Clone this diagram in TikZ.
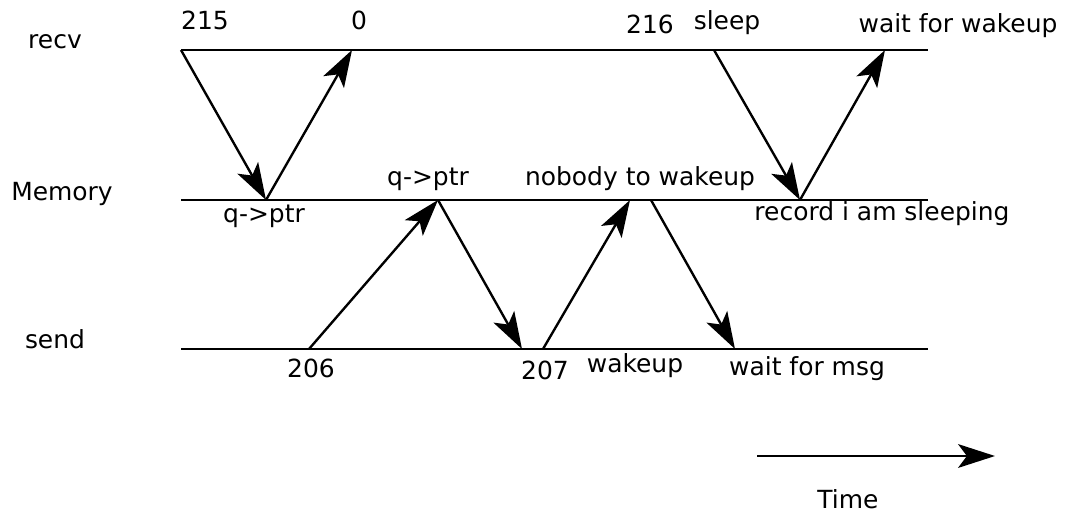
\documentclass[tikz,border=0pt]{standalone}
\usepackage{fontspec}
\setmainfont{DejaVu Sans}
\usetikzlibrary{arrows.meta}

\begin{document}
\begin{tikzpicture}[x=0.02cm,y=-0.02cm,line width=1.35pt,
    msg/.style={-{Stealth[length=21pt,width=13.5pt,inset=5pt]}},
    lbl/.style={anchor=base,inner sep=0pt,font=\fontsize{14.2}{17}\selectfont}]
        \useasboundingbox (0,0) rectangle (1065,514);

        % the three time lines
        \draw (181,50) -- (928,50) (181,200) -- (928,200) (181,349) -- (928,349);
        \node[lbl] (recv) at (55,48) {recv};
        \node[lbl] (memory) at (62,200) {Memory};
        \node[lbl] (send) at (55,348) {send};

        % events on recv
        \coordinate (r1) at (181,50);
        \coordinate (r2) at (352,50);
        \coordinate (r3) at (714,50);
        \coordinate (r4) at (885,50);
        % events on memory
        \coordinate (m1) at (266,200);
        \coordinate (m2) at (438,200);
        \coordinate (m3) at (630,200);
        \coordinate (m4) at (651,200);
        \coordinate (m5) at (800,200);
        % events on send
        \coordinate (s1) at (309,349);
        \coordinate (s2) at (522,349);
        \coordinate (s3) at (543,349);
        \coordinate (s4) at (735,349);

        \draw[msg] (r1) -- (m1);
        \draw[msg] (m1) -- (r2);
        \draw[msg] (s1) -- (m2);
        \draw[msg] (m2) -- (s2);
        \draw[msg] (s3) -- (m3);
        \draw[msg] (m4) -- (s4);
        \draw[msg] (r3) -- (m5);
        \draw[msg] (m5) -- (r4);

        \node[lbl] (l215) at (205,29) {215};
        \node[lbl] (l0) at (359,29) {0};
        \node[lbl] (l216) at (650,33) {216};
        \node[lbl] (lsleep) at (727,29) {sleep};
        \node[lbl] (lwaitw) at (958,32) {wait for wakeup};
        \node[lbl] (lptr1) at (264,222) {q->ptr};
        \node[lbl] (lptr2) at (428,185) {q->ptr};
        \node[lbl] (lnobody) at (640,185) {nobody to wakeup};
        \node[lbl] (lrecord) at (882,220) {record i am sleeping};
        \node[lbl] (l206) at (311,377) {206};
        \node[lbl] (l207) at (545,379) {207};
        \node[lbl] (lwakeup) at (635,372) {wakeup};
        \node[lbl] (lwaitm) at (807,375) {wait for msg};

        % time axis
        \coordinate (t0) at (757,456);
        \coordinate (t1) at (995,456);
        \draw[msg] (t0) -- (t1);
        \node[lbl] (time) at (848,508) {Time};
      \end{tikzpicture}
\end{document}
